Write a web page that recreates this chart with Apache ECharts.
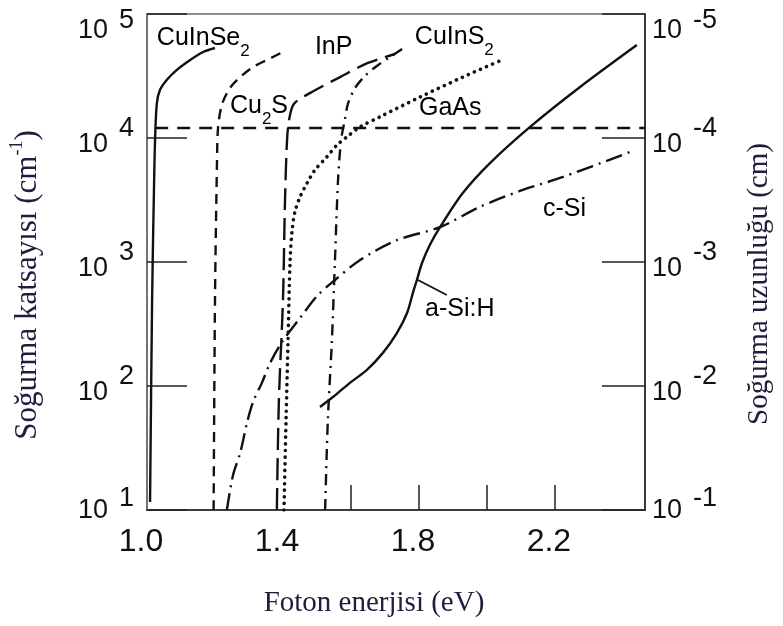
<!DOCTYPE html>
<html>
<head>
<meta charset="utf-8">
<script src="https://cdn.jsdelivr.net/npm/echarts@6/dist/echarts.min.js"></script>
<style>
  html, body { margin: 0; padding: 0; background: #ffffff; }
  #chart { width: 783px; height: 626px; }
</style>
</head>
<body>
<div id="chart"></div>
<script>
// Absorption coefficient (cm^-1) against photon energy (eV), one array per material: [energy, alpha]
const cuInSe2 = [[1.009, 11.6], [1.015, 494], [1.021, 4580], [1.024, 10200], [1.029, 19100], [1.038, 24400],
  [1.058, 29400], [1.087, 35300], [1.127, 42600], [1.165, 49400], [1.200, 53200]];
const cu2S = [[1.196, 10], [1.200, 494], [1.206, 6650], [1.209, 12050], [1.220, 18450], [1.244, 25300],
  [1.274, 31000], [1.312, 37400], [1.353, 42600], [1.400, 49400]];
const inP = [[1.382, 10], [1.388, 77], [1.400, 494], [1.406, 3160], [1.412, 9640], [1.418, 14000],
  [1.432, 18800], [1.485, 23500], [1.568, 31000], [1.650, 40300], [1.729, 47600]];
const gaAs = [[1.403, 10], [1.409, 53], [1.415, 235], [1.421, 1040], [1.427, 1810], [1.435, 2530],
  [1.450, 3340], [1.471, 4330], [1.494, 5520], [1.529, 7030], [1.559, 8790], [1.588, 10200],
  [1.627, 12300], [1.685, 14800], [1.803, 21400], [1.929, 31000], [2.044, 42600]];
const cuInS2 = [[1.524, 10], [1.532, 53], [1.544, 235], [1.553, 1040], [1.562, 4580], [1.571, 9640],
  [1.582, 14000], [1.591, 18800], [1.612, 25300], [1.641, 31600], [1.676, 38100], [1.715, 45000],
  [1.759, 54200]];
const cSi = [[1.235, 10], [1.253, 19.1], [1.274, 28.8], [1.294, 50.3], [1.312, 74.3], [1.338, 106],
  [1.362, 153], [1.397, 226], [1.450, 353], [1.503, 542], [1.553, 716], [1.627, 1040], [1.735, 1500],
  [1.862, 1910], [1.979, 2780], [2.097, 3740], [2.224, 4850], [2.421, 7710]];
const aSiH = [[1.509, 67.8], [1.547, 81.5], [1.597, 106], [1.647, 135], [1.694, 185], [1.735, 267],
  [1.765, 388], [1.782, 562], [1.794, 716], [1.809, 981], [1.832, 1370], [1.862, 1910], [1.929, 3600],
  [2.009, 6280], [2.127, 12300], [2.274, 25800], [2.441, 56200]];

// 1 µm absorption-length level drawn across the plot
const refLevel = [[1.024, 12050], [2.465, 12050]];
// pointer from the a-Si:H label to its curve
const aSiLeader = [[1.797, 716], [1.882, 542]];

// curve names and the data point each name is anchored to
const curveNames = ['CuInSe{sub|2}', 'InP', 'Cu{sub|2}S', 'CuInS{sub|2}', 'GaAs', 'c-Si', 'a-Si:H'];
const nameAnchors = [[1.029, 64000], [1.494, 54200], [1.244, 18100], [1.788, 65300], [1.800, 17460],
  [2.165, 2670], [1.818, 418]];

// axis ranges and tick labels
const energyRange = [1.0, 2.465];
const energyLabels = [1.0, 1.4, 1.8, 2.2];
const energyTicks = [1.6, 1.8, 2.0, 2.2];
const alphaRange = [10, 100000];
const lengthRange = [1e-5, 1e-1];

const ink = '#111111';
const sans = '"Liberation Sans", Arial, sans-serif';
const serif = '"Liberation Serif", "Times New Roman", serif';
const titleColor = '#1e1e3e';

const powRich = {
  b: { fontSize: 27, lineHeight: 27, fontFamily: sans, color: ink, padding: [14, 0, 0, 0] },
  s: { fontSize: 27, lineHeight: 27, fontFamily: sans, color: ink, padding: [0, 0, 18, 11] },
  bTop: { fontSize: 27, lineHeight: 27, fontFamily: sans, color: ink, padding: [34, 0, 0, 0] },
  sTop: { fontSize: 27, lineHeight: 27, fontFamily: sans, color: ink, padding: [14, 0, 0, 11] },
  bBot: { fontSize: 27, lineHeight: 27, fontFamily: sans, color: ink, padding: [2, 0, 0, 0] },
  sBot: { fontSize: 27, lineHeight: 27, fontFamily: sans, color: ink, padding: [0, 0, 22, 11] }
};

function powerLabel(v, topExp, botExp) {
  const e = Math.round(Math.log10(v));
  if (e === topExp) return '{bTop|10}{sTop|' + e + '}';
  if (e === botExp) return '{bBot|10}{sBot|' + e + '}';
  return '{b|10}{s|' + e + '}';
}

function curve(name, data, lineStyle) {
  return {
    name: name, type: 'line', data: data, xAxisIndex: 0, yAxisIndex: 0,
    showSymbol: false, symbol: 'none', smooth: 0.3, silent: true,
    lineStyle: Object.assign({ color: ink, width: 2.4 }, lineStyle)
  };
}

const chart = echarts.init(document.getElementById('chart'), null, { renderer: 'canvas' });

chart.setOption({
  animation: false,
  backgroundColor: '#ffffff',
  grid: {
    left: 147, right: 138, top: 14, bottom: 116,
    show: true, borderColor: '#6a6a6a', borderWidth: 1.5, backgroundColor: 'transparent',
    outerBoundsMode: 'none'
  },
  xAxis: {
    type: 'value', min: energyRange[0], max: energyRange[1], interval: 0.2,
    axisLine: { show: true, lineStyle: { color: '#222222', width: 1.6 } },
    axisTick: { show: true, inside: true, length: 25, customValues: energyTicks,
      lineStyle: { color: '#222222', width: 1.5 } },
    axisLabel: {
      customValues: energyLabels, margin: 16, fontSize: 32, fontFamily: sans, color: ink,
      padding: [0, 12, 0, 0],
      formatter: v => (energyLabels.some(t => Math.abs(t - v) < 1e-6) ? v.toFixed(1) : '')
    },
    splitLine: { show: false }
  },
  yAxis: [{
    type: 'log', logBase: 10, min: alphaRange[0], max: alphaRange[1], position: 'left',
    axisLine: { show: true, lineStyle: { color: '#6a6a6a', width: 1.5 } },
    axisTick: { show: true, inside: true, length: 40, lineStyle: { color: '#222222', width: 1.5 } },
    axisLabel: { margin: 13, rich: powRich, formatter: v => powerLabel(v, 5, 1) },
    splitLine: { show: false }, minorTick: { show: false }, minorSplitLine: { show: false }
  }, {
    type: 'log', logBase: 10, min: lengthRange[0], max: lengthRange[1], inverse: true, position: 'right',
    axisLine: { show: true, lineStyle: { color: '#222222', width: 1.6 } },
    axisTick: { show: true, inside: true, length: 43, lineStyle: { color: '#222222', width: 1.5 } },
    axisLabel: { margin: 7, rich: powRich, formatter: v => powerLabel(v, -5, -1) },
    splitLine: { show: false }, minorTick: { show: false }, minorSplitLine: { show: false }
  }],
  series: [
    curve('CuInSe2', cuInSe2, { type: 'solid' }),
    curve('Cu2S', cu2S, { type: [10, 7] }),
    curve('InP', inP, { type: [22, 8] }),
    curve('GaAs', gaAs, { type: [0.1, 6.5], cap: 'round', width: 3.6 }),
    curve('CuInS2', cuInS2, { type: [11, 6, 2, 6] }),
    curve('c-Si', cSi, { type: [17, 6, 2, 6] }),
    curve('a-Si:H', aSiH, { type: 'solid' }),
    Object.assign(curve('level', refLevel, { type: [13, 9] }), { smooth: false }),
    Object.assign(curve('leader', aSiLeader, { type: 'solid', width: 1.8 }), { smooth: false }),
    {
      name: 'names', type: 'scatter', symbolSize: 0, silent: true,
      itemStyle: { opacity: 1, color: ink },
      data: nameAnchors.map((p, i) => ({ value: p, name: curveNames[i] })),
      label: {
        show: true, position: 'right', distance: 0, opacity: 1,
        formatter: p => p.name,
        fontSize: 25, fontFamily: sans, color: '#000000',
        rich: { sub: { fontSize: 17, lineHeight: 17, fontFamily: sans, color: '#000000', padding: [26, 0, 0, 0] } }
      }
    }
  ],
  graphic: [
    {
      type: 'text', x: 28, y: 285, rotation: Math.PI / 2, silent: true,
      style: {
        text: 'Soğurma katsayısı (cm{sup|-1})',
        font: '31px ' + serif, fontSize: 31, fontFamily: serif, fill: titleColor,
        align: 'center', verticalAlign: 'middle', textAlign: 'center', textVerticalAlign: 'middle',
        rich: { sup: { fontSize: 18, lineHeight: 18, fontFamily: serif, fill: titleColor, color: titleColor, padding: [0, 0, 22, 0] } }
      }
    },
    {
      type: 'text', x: 759, y: 284, rotation: Math.PI / 2, silent: true,
      style: {
        text: 'Soğurma uzunluğu (cm)',
        font: '29px ' + serif, fontSize: 29, fontFamily: serif, fill: titleColor,
        align: 'center', verticalAlign: 'middle', textAlign: 'center', textVerticalAlign: 'middle'
      }
    },
    {
      type: 'text', x: 374, y: 603, silent: true,
      style: {
        text: 'Foton enerjisi (eV)',
        font: '29px ' + serif, fontSize: 29, fontFamily: serif, fill: titleColor,
        align: 'center', verticalAlign: 'middle', textAlign: 'center', textVerticalAlign: 'middle'
      }
    }
  ]
});
</script>
</body>
</html>
